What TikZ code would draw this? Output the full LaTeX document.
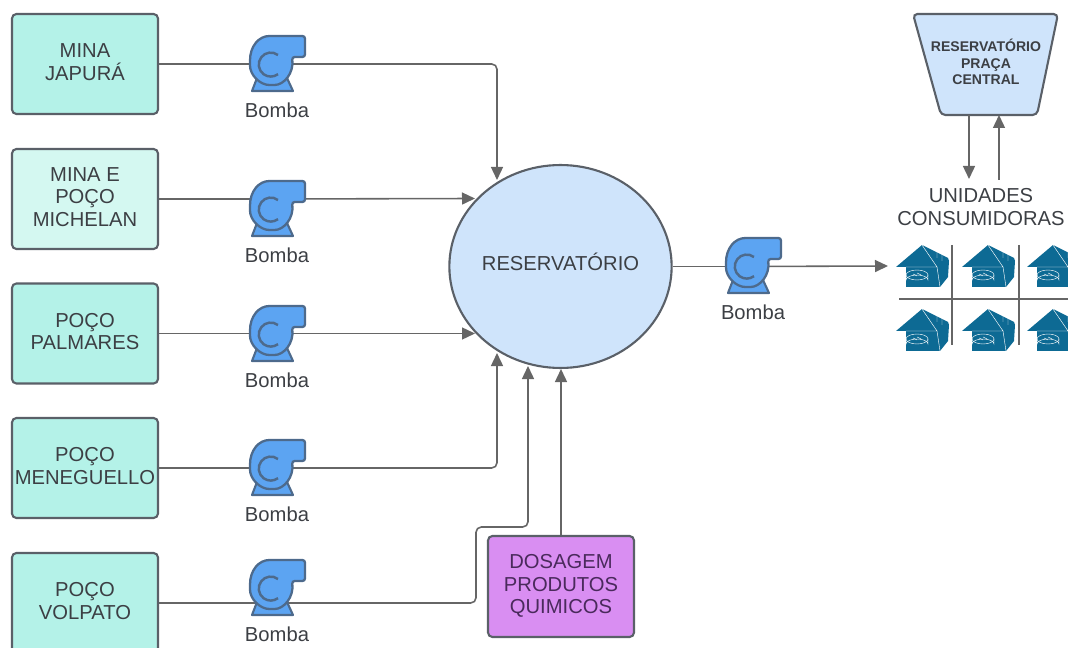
\documentclass[tikz,border=0pt]{standalone}
\usepackage{fontspec}
\setmainfont{Liberation Sans}
\usetikzlibrary{arrows.meta,shapes.geometric}
\definecolor{edgegray}{HTML}{5A6068}
\definecolor{linegray}{HTML}{666666}
\definecolor{txtgray}{HTML}{3C3F44}
\definecolor{minacol}{HTML}{B4F2E8}
\definecolor{michcol}{HTML}{D4F8F1}
\definecolor{rescol}{HTML}{CFE4FB}
\definecolor{dosecol}{HTML}{D98EF2}
\definecolor{dosetxt}{HTML}{4A2A5C}
\definecolor{pumpcol}{HTML}{5CA4F2}
\definecolor{pumpedge}{HTML}{4D6A8C}
\definecolor{housecol}{HTML}{0D6A94}
\begin{document}
\begin{tikzpicture}[x=0.02cm, y=-0.02cm,
	source/.style = {draw=edgegray, line width=1.2pt, rounded corners=2.5pt, fill=minacol,
		minimum width=2.92cm, minimum height=2cm, inner sep=0pt, align=center, text=txtgray,
		text depth=2.4pt, font=\fontsize{11.5}{12.8}\selectfont},
	lbl/.style = {text=txtgray, font=\fontsize{11.5}{13}\selectfont, align=center},
	flow/.style = {draw=linegray, line width=0.9pt, rounded corners=3pt},
	flowtip/.style = {flow, -{Triangle[length=7.4pt, width=6.8pt]}},
	pumpnode/.style = {minimum width=1.1cm, minimum height=1.1cm, inner sep=0pt},
	pump/.pic = {
		\draw[pumpedge, fill=pumpcol, line width=1.2pt, line join=round]
			(-15,15) -- (-20,28) -- (21,28) -- (15,15) -- cycle;
		\draw[pumpedge, fill=pumpcol, line width=1.3pt, rounded corners=1.5pt]
			(-22,0) .. controls (-22,-17) and (-13,-27) .. (0,-27)
			-- (33,-27) -- (33,-6) -- (20,-6)
			.. controls (22,10) and (12,22) .. (0,22)
			.. controls (-12,22) and (-22,12) .. (-22,0) -- cycle;
		\draw[pumpedge, line width=1.4pt] (6,-8) arc[start angle=-53, end angle=-307, radius=12];
		\node[lbl] (-name) at (5,47) {Bomba};
	},
	house/.pic = {
		\fill[housecol] (-26,-1) -- (0,-23) -- (26,-10) -- (27,-7) -- (26,9)
			-- (18,19) -- (-16,19) -- (-16,-1) -- cycle;
		\draw[white, line width=0.25pt] (0,-23) -- (15,-1) -- (-16,-1);
		\draw[white, line width=0.25pt] (15,-1) -- (18,19);
		\draw[white, line width=0.25pt] (15,-10) -- (15,-21) -- (20,-20) -- (20,-7);
		\draw[white, line width=0.25pt] (-5,7) ellipse (11 and 5);
		\draw[white, line width=0.25pt] (-16,7) -- (-16,12) arc[start angle=180, end angle=360, x radius=11, y radius=5] -- (6,7);
		\draw[white, line width=0.25pt] (-9,6) -- (-5,8) (-5,5) -- (-1,7);
	}]
	\clip (0,0) rectangle (1068,648);

	\node[source] (box1) at (85,64) {MINA\\JAPURÁ};
	\node[source, fill=michcol] (box2) at (85,199) {MINA E\\POÇO\\MICHELAN};
	\node[source] (box3) at (85,333.5) {POÇO\\PALMARES};
	\node[source] (box4) at (85,468) {POÇO\\MENEGUELLO};
	\node[source] (box5) at (85,603) {POÇO\\VOLPATO};
	\node[source, fill=dosecol, text=dosetxt, text depth=2.8pt, minimum height=2.02cm] (dose) at (561,586.5) {DOSAGEM\\PRODUTOS\\QUIMICOS};

	\node[draw=edgegray, line width=1.2pt, fill=rescol, ellipse, inner sep=0pt,
		minimum width=4.42cm, minimum height=4.06cm, lbl, text depth=5.7pt] (res) at (560.5,266.5) {RESERVATÓRIO};

	\node[pumpnode] (p1) at (272,63) {};
	\node[pumpnode] (p2) at (272,208) {};
	\node[pumpnode] (p3) at (272,333) {};
	\node[pumpnode] (p4) at (272,467) {};
	\node[pumpnode] (p5) at (272,587) {};
	\node[pumpnode] (p6) at (748,265) {};

	\coordinate[](in1) at (497,180);
	\coordinate[](in2) at (475,198.5);
	\coordinate[](in3) at (475,333.5);
	\coordinate[](in4) at (497,353);
	\coordinate[](in5) at (528,366);
	\coordinate[](in6) at (561,369);
	\coordinate[](homes) at (888,266);

	\draw[flow] (box1.east) -- (box1.east -| p1.center);
	\draw[flowtip] (box1.east -| p1.center) -| (in1);
	\draw[flow] (box2.east) -- (box2.east -| p2.center);
	\draw[flowtip] (box2.east -| p2.center) -- (in2);
	\draw[flow] (box3.east) -- (box3.east -| p3.center);
	\draw[flowtip] (box3.east -| p3.center) -- (in3);
	\draw[flow] (box4.east) -- (box4.east -| p4.center);
	\draw[flowtip] (box4.east -| p4.center) -| (in4);
	\draw[flow] (box5.east) -- (box5.east -| p5.center);
	\draw[flowtip] (box5.east -| p5.center) -- (476,603) -- (476,527) -- (528,527) -- (in5);
	\draw[flowtip] (dose.north) -- (in6);
	\draw[flow] (res.east) -- (res.east -| p6.center);
	\draw[flowtip] (res.east -| p6.center) -- (homes);

	\pic (g1) at (p1) {pump};
	\pic (g2) at (p2) {pump};
	\pic (g3) at (p3) {pump};
	\pic (g4) at (p4) {pump};
	\pic (g5) at (p5) {pump};
	\pic (g6) at (p6) {pump};

	\draw[draw=edgegray, line width=1.2pt, fill=rescol, rounded corners=2.5pt]
		(913,14) -- (1058,14) -- (1037,115) -- (941,115) -- cycle;
	\node[align=center, text=txtgray, inner sep=0pt, font=\fontsize{8}{9.4}\selectfont\bfseries]
		(tank) at (986,62) {RESERVATÓRIO\\PRAÇA\\CENTRAL};
	\node[lbl, font=\fontsize{11.5}{13.2}\selectfont] (units) at (981,207) {UNIDADES\\CONSUMIDORAS};

	\coordinate[](tankout) at (969,115);
	\coordinate[](tankin) at (999,115);
	\draw[flowtip] (tankout) -- (969,179);
	\draw[flowtip] (999,180) -- (tankin);

	% houses
	\foreach \x in {922,988,1053}
		\foreach \y in {268,332}
			\pic at (\x,\y) {house};
	\draw[linegray, line width=0.9pt] (952,245) -- (952,345);
	\draw[linegray, line width=0.9pt] (1019,245) -- (1019,345);
	\draw[linegray, line width=0.9pt] (899,299) -- (1068,299);
\end{tikzpicture}
\end{document}
